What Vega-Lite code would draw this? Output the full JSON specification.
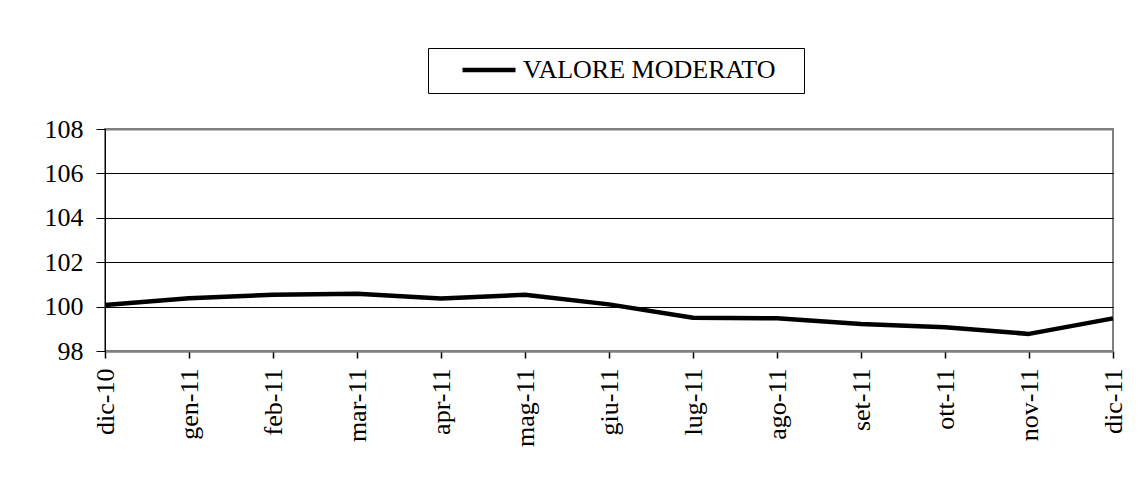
{
  "$schema": "https://vega.github.io/schema/vega-lite/v6.json",
  "autosize": "none",
  "padding": {"left": 105, "top": 129, "right": 25, "bottom": 130},
  "width": 1008,
  "height": 222,
  "background": "white",
  "config": {
    "font": "Liberation Serif",
    "axis": {"labelFont": "Liberation Serif"},
    "legend": {"labelFont": "Liberation Serif"},
    "view": {"stroke": "#808080", "strokeWidth": 2}
  },
  "data": {
    "values": [
      {"mese": "dic-10", "valore": 100.07, "serie": "VALORE MODERATO"},
      {"mese": "gen-11", "valore": 100.38, "serie": "VALORE MODERATO"},
      {"mese": "feb-11", "valore": 100.53, "serie": "VALORE MODERATO"},
      {"mese": "mar-11", "valore": 100.58, "serie": "VALORE MODERATO"},
      {"mese": "apr-11", "valore": 100.37, "serie": "VALORE MODERATO"},
      {"mese": "mag-11", "valore": 100.53, "serie": "VALORE MODERATO"},
      {"mese": "giu-11", "valore": 100.1, "serie": "VALORE MODERATO"},
      {"mese": "lug-11", "valore": 99.5, "serie": "VALORE MODERATO"},
      {"mese": "ago-11", "valore": 99.47, "serie": "VALORE MODERATO"},
      {"mese": "set-11", "valore": 99.22, "serie": "VALORE MODERATO"},
      {"mese": "ott-11", "valore": 99.07, "serie": "VALORE MODERATO"},
      {"mese": "nov-11", "valore": 98.77, "serie": "VALORE MODERATO"},
      {"mese": "dic-11", "valore": 99.47, "serie": "VALORE MODERATO"}
    ]
  },
  "mark": {"type": "line", "strokeWidth": 4.5, "strokeJoin": "round"},
  "encoding": {
    "x": {
      "field": "mese",
      "type": "ordinal",
      "sort": null,
      "scale": {"type": "point", "padding": 0},
      "axis": {
        "title": null,
        "labelAngle": -90,
        "labelAlign": "right",
        "labelBaseline": "middle",
        "labelFont": "Liberation Serif",
        "labelFontSize": 26,
        "labelColor": "black",
        "labelPadding": 10,
        "tickSize": 7,
        "tickColor": "black",
        "tickWidth": 1.5,
        "domainColor": "#808080",
        "domainWidth": 2,
        "grid": false
      }
    },
    "y": {
      "field": "valore",
      "type": "quantitative",
      "scale": {"domain": [98, 108], "nice": false, "zero": false},
      "axis": {
        "title": null,
        "values": [98, 100, 102, 104, 106, 108],
        "labelFont": "Liberation Serif",
        "labelFontSize": 26,
        "labelColor": "black",
        "labelPadding": 13,
        "tickSize": 9,
        "tickColor": "black",
        "domainColor": "black",
        "domainWidth": 1,
        "grid": true,
        "gridColor": {"condition": {"test": "datum.value == 108 || datum.value == 98", "value": "#808080"}, "value": "black"},
        "gridWidth": {"condition": {"test": "datum.value == 108 || datum.value == 98", "value": 2}, "value": 1},
        "gridOpacity": 1
      }
    },
    "color": {
      "field": "serie",
      "type": "nominal",
      "scale": {"range": ["black"]},
      "legend": {
        "title": "\u00a0",
        "titleOrient": "right",
        "titlePadding": 18,
        "titleFontSize": 20,
        "orient": "none",
        "legendX": 323,
        "legendY": -81,
        "padding": 10,
        "clipHeight": 24,
        "strokeColor": "black",
        "fillColor": "white",
        "symbolType": "M-1,0H1",
        "symbolSize": 2809,
        "symbolStrokeWidth": 4.5,
        "symbolOffset": 22,
        "labelOffset": 5,
        "labelFont": "Liberation Serif",
        "labelFontSize": 26,
        "labelColor": "black",
        "labelLimit": 500
      }
    }
  }
}
